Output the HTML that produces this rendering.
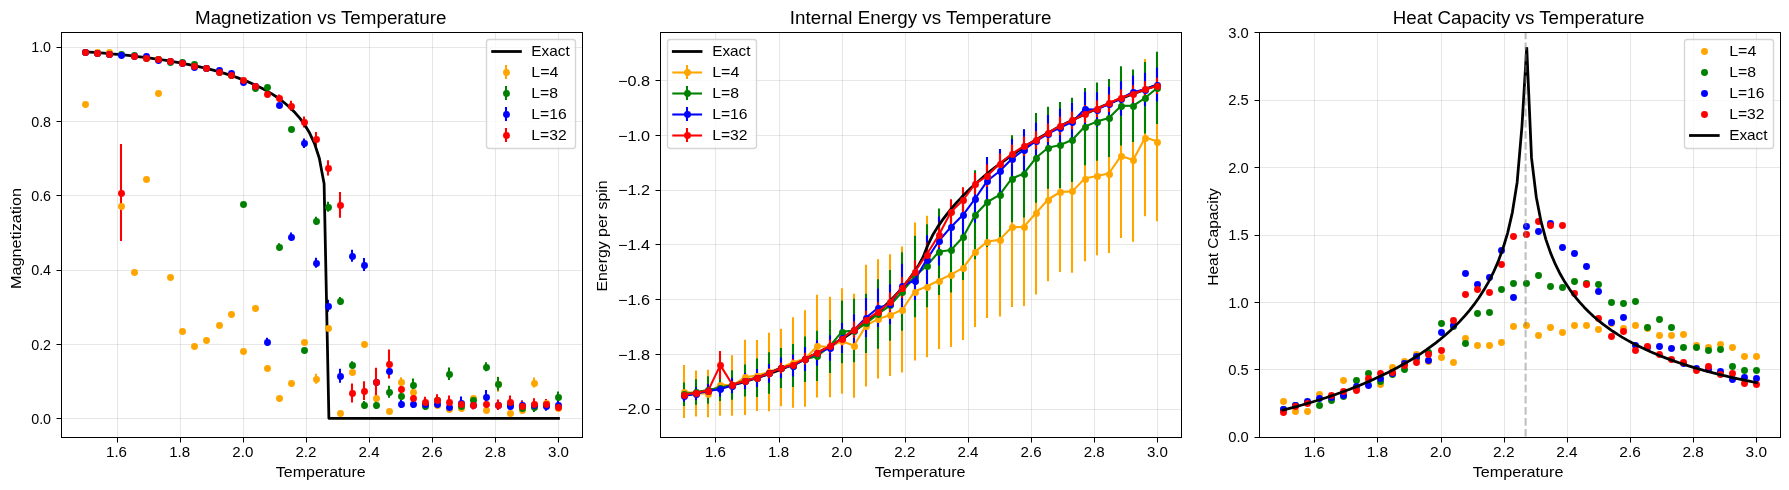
<!DOCTYPE html>
<html lang="en"><head><meta charset="utf-8"><title>Ising model: finite-size Monte Carlo vs exact</title>
<style>html,body{margin:0;padding:0;background:#fff}body{width:1789px;height:490px;overflow:hidden}svg{display:block;will-change:transform}text{font-family:"Liberation Sans",sans-serif;fill:#000}.g line{stroke:#b0b0b0;stroke-opacity:.3;stroke-width:1.11}.k line{stroke:#000;stroke-width:1}.e{stroke-width:2.08;fill:none}.dl{stroke-width:2.08;fill:none;stroke-linejoin:round;stroke-linecap:butt}.ex{stroke:#000;stroke-width:2.78;fill:none;stroke-linejoin:round;stroke-linecap:square}.exb{stroke-linejoin:bevel}.lg{fill:#fff;fill-opacity:.8;stroke:#ccc;stroke-opacity:.8;stroke-width:1.39}</style></head><body>
<svg width="1789" height="490" viewBox="0 0 1789 490">
<rect width="1789" height="490" fill="#fff"/>
<defs>
<clipPath id="c0"><rect x="61.28" y="32.33" width="520.89" height="404.39"/></clipPath>
<clipPath id="c1"><rect x="660.19" y="32.33" width="520.89" height="404.39"/></clipPath>
<clipPath id="c2"><rect x="1259.11" y="32.33" width="520.89" height="404.39"/></clipPath>
</defs>
<g id="panel1">
<g class="g">
<line x1="117.5" y1="32.33" x2="117.5" y2="436.72"/>
<line x1="180.5" y1="32.33" x2="180.5" y2="436.72"/>
<line x1="243.5" y1="32.33" x2="243.5" y2="436.72"/>
<line x1="306.5" y1="32.33" x2="306.5" y2="436.72"/>
<line x1="369.5" y1="32.33" x2="369.5" y2="436.72"/>
<line x1="432.5" y1="32.33" x2="432.5" y2="436.72"/>
<line x1="495.5" y1="32.33" x2="495.5" y2="436.72"/>
<line x1="558.5" y1="32.33" x2="558.5" y2="436.72"/>
<line x1="61.28" y1="418.5" x2="582.17" y2="418.5"/>
<line x1="61.28" y1="344.5" x2="582.17" y2="344.5"/>
<line x1="61.28" y1="270.5" x2="582.17" y2="270.5"/>
<line x1="61.28" y1="195.5" x2="582.17" y2="195.5"/>
<line x1="61.28" y1="121.5" x2="582.17" y2="121.5"/>
<line x1="61.28" y1="47.5" x2="582.17" y2="47.5"/>
</g>
<g clip-path="url(#c0)">
<path class="e" stroke="#ffa500" d="M316 373.7V383.7M401 377.2V386.2M498 376.8V391.8M534 377.5V387.5"/>
<path class="e" stroke="#008000" d="M279 243.3V250.3M316 216.7V224.7M328 201.8V211.8M340 296.9V304.9M352 361.3V368.3M364 400.9V408.7M376 401.1V408.9M389 385.8V397.8M401 391.8V399.6M413 378.6V390.6M425 401.9V409.7M437 395.6V403.4M449 367.4V380M461 402.1V409.9M473 396.4V404.2M486 362.2V371.2M498 377V390.6M510 399.6V407.4M522 404.3V412.1M534 402.1V412.1M546 400.6V408.4M558 391.6V401.6"/>
<path class="e" stroke="#0000ff" d="M267 337.7V345.7M291 232.6V240.6M304 138.4V148M316 257.8V267.8M328 299.8V311.8M340 368.8V382.8M352 249.8V261.8M364 258.1V271.1M376 377.8V385.6M389 363.9V377.9M401 400.1V407.9M413 400.1V407.9M425 400.1V407.9M437 400.1V407.9M449 403.1V410.9M461 396.6V408.6M473 400.6V408.4M486 390V403.2M498 400.6V408.4M510 401.8V409.6M522 400.6V408.4M534 400.6V408.4M546 401.7V410.7M558 400.6V408.4"/>
<path class="e" stroke="#ff0000" d="M121 144V241M255 83.5V88.5M267 90.3V97.3M279 94.4V101.4M291 100.8V110.8M304 116.5V127.5M316 132V146M328 160.3V175.5M340 191.9V217.7M352 383.4V402.4M364 381.3V399.9M376 367.7V395.7M389 349.5V378.5M401 385.8V391.8M413 394V401.8M425 396.7V406.7M437 394.3V406.3M449 395.6V407.6M461 400.2V408.2M473 399.5V409.5M486 400.1V407.9M498 399.5V409.9M510 395.6V407.6M522 400.7V410.7M534 398.2V409.2M546 399V408.4M558 402.7V410.5"/>
<polyline class="ex" points="84.95,51.76 89.74,52.09 94.52,52.44 99.3,52.81 104.09,53.2 108.87,53.61 113.65,54.04 118.44,54.49 123.22,54.97 128,55.47 132.79,55.99 137.57,56.55 142.35,57.12 147.14,57.73 151.92,58.37 156.7,59.04 161.49,59.75 166.27,60.49 171.05,61.27 175.84,62.08 180.62,62.95 185.4,63.85 190.18,64.81 194.97,65.81 199.75,66.87 204.53,67.99 209.32,69.17 214.1,70.42 218.88,71.75 223.67,73.15 228.45,74.63 233.23,76.21 238.02,77.9 242.8,79.69 247.58,81.61 252.37,83.67 257.15,85.89 261.93,88.28 266.72,90.87 271.5,93.69 276.28,96.78 281.07,100.19 285.85,103.97 290.63,108.22 295.41,113.06 300.2,118.64 304.98,125.25 309.76,133.32 314.55,143.68 319.33,158.27 324.11,183.7 328.9,418.34 333.68,418.34 338.46,418.34 343.25,418.34 348.03,418.34 352.81,418.34 357.6,418.34 362.38,418.34 367.16,418.34 371.95,418.34 376.73,418.34 381.51,418.34 386.3,418.34 391.08,418.34 395.86,418.34 400.64,418.34 405.43,418.34 410.21,418.34 414.99,418.34 419.78,418.34 424.56,418.34 429.34,418.34 434.13,418.34 438.91,418.34 443.69,418.34 448.48,418.34 453.26,418.34 458.04,418.34 462.83,418.34 467.61,418.34 472.39,418.34 477.18,418.34 481.96,418.34 486.74,418.34 491.53,418.34 496.31,418.34 501.09,418.34 505.87,418.34 510.66,418.34 515.44,418.34 520.22,418.34 525.01,418.34 529.79,418.34 534.57,418.34 539.36,418.34 544.14,418.34 548.92,418.34 553.71,418.34 558.49,418.34"/>
<g class="m" fill="#ffa500"><circle cx="85.5" cy="104.5" r="3.47"/><circle cx="97.5" cy="52.5" r="3.47"/><circle cx="109.5" cy="52.5" r="3.47"/><circle cx="121.5" cy="206.5" r="3.47"/><circle cx="134.5" cy="272.5" r="3.47"/><circle cx="146.5" cy="179.5" r="3.47"/><circle cx="158.5" cy="93.5" r="3.47"/><circle cx="170.5" cy="277.5" r="3.47"/><circle cx="182.5" cy="331.5" r="3.47"/><circle cx="194.5" cy="346.5" r="3.47"/><circle cx="206.5" cy="340.5" r="3.47"/><circle cx="219.5" cy="325.5" r="3.47"/><circle cx="231.5" cy="314.5" r="3.47"/><circle cx="243.5" cy="351.5" r="3.47"/><circle cx="255.5" cy="308.5" r="3.47"/><circle cx="267.5" cy="368.5" r="3.47"/><circle cx="279.5" cy="398.5" r="3.47"/><circle cx="291.5" cy="383.5" r="3.47"/><circle cx="304.5" cy="342.5" r="3.47"/><circle cx="316.5" cy="379.5" r="3.47"/><circle cx="328.5" cy="328.5" r="3.47"/><circle cx="340.5" cy="413.5" r="3.47"/><circle cx="352.5" cy="372.5" r="3.47"/><circle cx="364.5" cy="344.5" r="3.47"/><circle cx="376.5" cy="398.5" r="3.47"/><circle cx="389.5" cy="411.5" r="3.47"/><circle cx="401.5" cy="382.5" r="3.47"/><circle cx="413.5" cy="392.5" r="3.47"/><circle cx="425.5" cy="405.5" r="3.47"/><circle cx="437.5" cy="405.5" r="3.47"/><circle cx="449.5" cy="409.5" r="3.47"/><circle cx="461.5" cy="408.5" r="3.47"/><circle cx="473.5" cy="398.5" r="3.47"/><circle cx="486.5" cy="410.5" r="3.47"/><circle cx="498.5" cy="384.5" r="3.47"/><circle cx="510.5" cy="413.5" r="3.47"/><circle cx="522.5" cy="410.5" r="3.47"/><circle cx="534.5" cy="383.5" r="3.47"/><circle cx="546.5" cy="403.5" r="3.47"/><circle cx="558.5" cy="408.5" r="3.47"/></g>
<g class="m" fill="#008000"><circle cx="85.5" cy="52.5" r="3.47"/><circle cx="97.5" cy="53.5" r="3.47"/><circle cx="109.5" cy="54.5" r="3.47"/><circle cx="121.5" cy="54.5" r="3.47"/><circle cx="134.5" cy="55.5" r="3.47"/><circle cx="146.5" cy="58.5" r="3.47"/><circle cx="158.5" cy="59.5" r="3.47"/><circle cx="170.5" cy="62.5" r="3.47"/><circle cx="182.5" cy="62.5" r="3.47"/><circle cx="194.5" cy="64.5" r="3.47"/><circle cx="206.5" cy="68.5" r="3.47"/><circle cx="219.5" cy="72.5" r="3.47"/><circle cx="231.5" cy="75.5" r="3.47"/><circle cx="243.5" cy="204.5" r="3.47"/><circle cx="255.5" cy="88.5" r="3.47"/><circle cx="267.5" cy="87.5" r="3.47"/><circle cx="279.5" cy="247.5" r="3.47"/><circle cx="291.5" cy="129.5" r="3.47"/><circle cx="304.5" cy="350.5" r="3.47"/><circle cx="316.5" cy="221.5" r="3.47"/><circle cx="328.5" cy="207.5" r="3.47"/><circle cx="340.5" cy="301.5" r="3.47"/><circle cx="352.5" cy="365.5" r="3.47"/><circle cx="364.5" cy="405.5" r="3.47"/><circle cx="376.5" cy="405.5" r="3.47"/><circle cx="389.5" cy="392.5" r="3.47"/><circle cx="401.5" cy="396.5" r="3.47"/><circle cx="413.5" cy="385.5" r="3.47"/><circle cx="425.5" cy="406.5" r="3.47"/><circle cx="437.5" cy="400.5" r="3.47"/><circle cx="449.5" cy="374.5" r="3.47"/><circle cx="461.5" cy="406.5" r="3.47"/><circle cx="473.5" cy="400.5" r="3.47"/><circle cx="486.5" cy="367.5" r="3.47"/><circle cx="498.5" cy="384.5" r="3.47"/><circle cx="510.5" cy="404.5" r="3.47"/><circle cx="522.5" cy="408.5" r="3.47"/><circle cx="534.5" cy="407.5" r="3.47"/><circle cx="546.5" cy="405.5" r="3.47"/><circle cx="558.5" cy="397.5" r="3.47"/></g>
<g class="m" fill="#0000ff"><circle cx="85.5" cy="52.5" r="3.47"/><circle cx="97.5" cy="53.5" r="3.47"/><circle cx="109.5" cy="54.5" r="3.47"/><circle cx="121.5" cy="55.5" r="3.47"/><circle cx="134.5" cy="56.5" r="3.47"/><circle cx="146.5" cy="56.5" r="3.47"/><circle cx="158.5" cy="60.5" r="3.47"/><circle cx="170.5" cy="61.5" r="3.47"/><circle cx="182.5" cy="63.5" r="3.47"/><circle cx="194.5" cy="67.5" r="3.47"/><circle cx="206.5" cy="68.5" r="3.47"/><circle cx="219.5" cy="70.5" r="3.47"/><circle cx="231.5" cy="73.5" r="3.47"/><circle cx="243.5" cy="82.5" r="3.47"/><circle cx="255.5" cy="86.5" r="3.47"/><circle cx="267.5" cy="342.5" r="3.47"/><circle cx="279.5" cy="105.5" r="3.47"/><circle cx="291.5" cy="237.5" r="3.47"/><circle cx="304.5" cy="143.5" r="3.47"/><circle cx="316.5" cy="263.5" r="3.47"/><circle cx="328.5" cy="306.5" r="3.47"/><circle cx="340.5" cy="376.5" r="3.47"/><circle cx="352.5" cy="256.5" r="3.47"/><circle cx="364.5" cy="265.5" r="3.47"/><circle cx="376.5" cy="382.5" r="3.47"/><circle cx="389.5" cy="371.5" r="3.47"/><circle cx="401.5" cy="404.5" r="3.47"/><circle cx="413.5" cy="404.5" r="3.47"/><circle cx="425.5" cy="404.5" r="3.47"/><circle cx="437.5" cy="404.5" r="3.47"/><circle cx="449.5" cy="407.5" r="3.47"/><circle cx="461.5" cy="403.5" r="3.47"/><circle cx="473.5" cy="405.5" r="3.47"/><circle cx="486.5" cy="397.5" r="3.47"/><circle cx="498.5" cy="405.5" r="3.47"/><circle cx="510.5" cy="406.5" r="3.47"/><circle cx="522.5" cy="405.5" r="3.47"/><circle cx="534.5" cy="405.5" r="3.47"/><circle cx="546.5" cy="406.5" r="3.47"/><circle cx="558.5" cy="405.5" r="3.47"/></g>
<g class="m" fill="#ff0000"><circle cx="85.5" cy="52.5" r="3.47"/><circle cx="97.5" cy="53.5" r="3.47"/><circle cx="109.5" cy="54.5" r="3.47"/><circle cx="121.5" cy="193.5" r="3.47"/><circle cx="134.5" cy="56.5" r="3.47"/><circle cx="146.5" cy="58.5" r="3.47"/><circle cx="158.5" cy="59.5" r="3.47"/><circle cx="170.5" cy="61.5" r="3.47"/><circle cx="182.5" cy="63.5" r="3.47"/><circle cx="194.5" cy="66.5" r="3.47"/><circle cx="206.5" cy="68.5" r="3.47"/><circle cx="219.5" cy="72.5" r="3.47"/><circle cx="231.5" cy="75.5" r="3.47"/><circle cx="243.5" cy="80.5" r="3.47"/><circle cx="255.5" cy="86.5" r="3.47"/><circle cx="267.5" cy="94.5" r="3.47"/><circle cx="279.5" cy="98.5" r="3.47"/><circle cx="291.5" cy="106.5" r="3.47"/><circle cx="304.5" cy="122.5" r="3.47"/><circle cx="316.5" cy="139.5" r="3.47"/><circle cx="328.5" cy="168.5" r="3.47"/><circle cx="340.5" cy="205.5" r="3.47"/><circle cx="352.5" cy="393.5" r="3.47"/><circle cx="364.5" cy="391.5" r="3.47"/><circle cx="376.5" cy="382.5" r="3.47"/><circle cx="389.5" cy="364.5" r="3.47"/><circle cx="401.5" cy="389.5" r="3.47"/><circle cx="413.5" cy="398.5" r="3.47"/><circle cx="425.5" cy="402.5" r="3.47"/><circle cx="437.5" cy="400.5" r="3.47"/><circle cx="449.5" cy="402.5" r="3.47"/><circle cx="461.5" cy="404.5" r="3.47"/><circle cx="473.5" cy="405.5" r="3.47"/><circle cx="486.5" cy="404.5" r="3.47"/><circle cx="498.5" cy="405.5" r="3.47"/><circle cx="510.5" cy="402.5" r="3.47"/><circle cx="522.5" cy="406.5" r="3.47"/><circle cx="534.5" cy="404.5" r="3.47"/><circle cx="546.5" cy="404.5" r="3.47"/><circle cx="558.5" cy="407.5" r="3.47"/></g>
</g>
<g class="k">
<rect x="61.5" y="32.5" width="521" height="405" fill="none" stroke="#000" stroke-width="1"/>
<line x1="117.5" y1="437.5" x2="117.5" y2="442.5"/>
<line x1="180.5" y1="437.5" x2="180.5" y2="442.5"/>
<line x1="243.5" y1="437.5" x2="243.5" y2="442.5"/>
<line x1="306.5" y1="437.5" x2="306.5" y2="442.5"/>
<line x1="369.5" y1="437.5" x2="369.5" y2="442.5"/>
<line x1="432.5" y1="437.5" x2="432.5" y2="442.5"/>
<line x1="495.5" y1="437.5" x2="495.5" y2="442.5"/>
<line x1="558.5" y1="437.5" x2="558.5" y2="442.5"/>
<line x1="56.5" y1="418.5" x2="61.5" y2="418.5"/>
<line x1="56.5" y1="344.5" x2="61.5" y2="344.5"/>
<line x1="56.5" y1="270.5" x2="61.5" y2="270.5"/>
<line x1="56.5" y1="195.5" x2="61.5" y2="195.5"/>
<line x1="56.5" y1="121.5" x2="61.5" y2="121.5"/>
<line x1="56.5" y1="47.5" x2="61.5" y2="47.5"/>
</g>
</g>
<g id="panel2">
<g class="g">
<line x1="715.5" y1="32.33" x2="715.5" y2="436.72"/>
<line x1="779.5" y1="32.33" x2="779.5" y2="436.72"/>
<line x1="842.5" y1="32.33" x2="842.5" y2="436.72"/>
<line x1="905.5" y1="32.33" x2="905.5" y2="436.72"/>
<line x1="968.5" y1="32.33" x2="968.5" y2="436.72"/>
<line x1="1031.5" y1="32.33" x2="1031.5" y2="436.72"/>
<line x1="1094.5" y1="32.33" x2="1094.5" y2="436.72"/>
<line x1="1157.5" y1="32.33" x2="1157.5" y2="436.72"/>
<line x1="660.19" y1="409.5" x2="1181.08" y2="409.5"/>
<line x1="660.19" y1="354.5" x2="1181.08" y2="354.5"/>
<line x1="660.19" y1="299.5" x2="1181.08" y2="299.5"/>
<line x1="660.19" y1="244.5" x2="1181.08" y2="244.5"/>
<line x1="660.19" y1="190.5" x2="1181.08" y2="190.5"/>
<line x1="660.19" y1="135.5" x2="1181.08" y2="135.5"/>
<line x1="660.19" y1="80.5" x2="1181.08" y2="80.5"/>
</g>
<g clip-path="url(#c1)">
<path class="e" stroke="#ffa500" d="M684 364.97V418.03M696 370.42V416.58M708 369.84V417.16M720 353.25V415.75M732 355.3V415.7M745 339.71V415.09M757 340.08V410.92M769 332.87V411.13M781 328.79V406.21M793 317.18V407.82M805 310.17V406.83M817 294.63V397.57M830 296.69V397.31M842 288.36V393.64M854 293.8V397.8M866 264.7V386.5M878 259.18V378.62M890 254.29V375.91M902 246.57V372.43M915 222.39V360.61M927 215.73V357.27M939 211.94V349.06M951 202.27V346.93M963 195.89V339.91M975 176.26V326.94M987 164.96V318.04M1000 163.35V316.45M1012 147.51V307.09M1024 147.85V305.95M1036 131.43V294.57M1048 117.83V281.17M1060 111.91V272.09M1072 110.17V272.63M1085 95.84V261.36M1097 96.57V255.23M1109 94.01V252.99M1121 73.86V237.94M1133 78.46V241.74M1145 58.99V216.21M1157 61.97V221.23"/>
<path class="e" stroke="#008000" d="M684 382.48V405.92M696 379.27V404.73M708 376.28V403.72M720 374.05V400.95M732 370.16V399.84M745 364.62V396.38M757 358.52V397.08M769 352.15V393.65M781 348.03V387.97M793 344.04V386.96M805 336.51V382.09M817 330.7V381.1M830 319.89V373.11M842 300.47V363.33M854 298.85V362.15M866 293.76V353.04M878 279.17V348.63M890 269.98V340.82M902 252.21V330.79M915 235.74V317.26M927 224.23V307.17M939 208.52V295.08M951 207.49V292.51M963 193.94V280.06M975 170.25V259.35M987 156.96V247.04M1000 149.4V240.4M1012 135.25V222.15M1024 129.53V217.47M1036 112.9V202.7M1048 106.7V188.7M1060 101.89V188.11M1072 97.71V181.89M1085 88.03V165.37M1097 82.39V160.81M1109 79.05V156.95M1121 66.18V145.62M1133 69.57V142.03M1145 62.12V133.48M1157 51.66V123.94"/>
<path class="e" stroke="#0000ff" d="M684 390.17V401.83M696 387.3V400.1M708 384.03V397.97M720 381.74V396.46M732 377.81V393.19M745 372.96V389.04M757 368.89V387.11M769 363.92V382.68M781 357.52V377.88M793 354.62V376.38M805 347.1V370.9M817 340.26V365.74M830 335.33V360.67M842 322.9V353.1M854 314.13V345.87M866 298.11V337.29M878 288.45V326.95M890 284.24V324.36M902 263.7V307.9M915 261.05V299.95M927 235.32V283.88M939 216.61V265.39M951 201.64V252.16M963 190.61V238.99M975 174.29V222.71M987 157V204.4M1000 149.07V193.53M1012 138.95V179.05M1024 129.22V170.78M1036 122.53V159.47M1048 114.95V152.05M1060 108.6V146.4M1072 102.93V140.87M1085 91.74V126.86M1097 92.34V126.66M1109 86.81V121.19M1121 81.21V115.79M1133 75.59V108.41M1145 72.66V106.34M1157 67.59V101.61"/>
<path class="e" stroke="#ff0000" d="M684 391.93V397.47M696 389.55V395.85M708 387.23V393.97M720 351.12V379.08M732 380.89V388.75M745 376.69V385.09M757 373.32V382.06M769 368.2V378.2M781 362.83V373.47M793 359.09V370.07M805 352.83V364.59M817 346.43V358.71M830 339.7V352.86M842 331.93V345.67M854 321.48V337.72M866 310.85V329.15M878 302.22V321.18M890 292.44V311.56M902 276.89V298.11M915 260.35V283.65M927 242.59V266.41M939 222.51V247.49M951 199.22V224.38M963 187.21V212.79M975 172.98V194.42M987 164.6V187M1000 153.45V173.55M1012 144.59V163.41M1024 136.43V155.97M1036 131.32V149.28M1048 123.41V141.99M1060 116.87V134.93M1072 111.44V129.16M1085 105.11V122.69M1097 100.44V117.36M1109 94.48V112.12M1121 89.42V106.18M1133 85.19V102.41M1145 81.27V97.33M1157 77.86V93.94"/>
<polyline class="ex" points="683.87,395.37 688.65,394.53 693.44,393.66 698.22,392.74 703,391.79 707.79,390.79 712.57,389.75 717.35,388.67 722.14,387.54 726.92,386.36 731.7,385.14 736.49,383.86 741.27,382.54 746.05,381.16 750.84,379.72 755.62,378.23 760.4,376.68 765.19,375.08 769.97,373.41 774.75,371.67 779.53,369.87 784.32,368 789.1,366.06 793.88,364.04 798.67,361.95 803.45,359.78 808.23,357.52 813.02,355.18 817.8,352.75 822.58,350.23 827.37,347.61 832.15,344.88 836.93,342.05 841.72,339.1 846.5,336.03 851.28,332.84 856.07,329.51 860.85,326.03 865.63,322.4 870.42,318.61 875.2,314.63 879.98,310.46 884.76,306.07 889.55,301.45 894.33,296.55 899.11,291.34 903.9,285.77 908.68,279.75 913.46,273.18 918.25,265.85 923.03,257.28 927.81,245.11 932.6,235.28 937.38,227.37 942.16,220.4 946.95,214.07 951.73,208.21 956.51,202.74 961.3,197.59 966.08,192.72 970.86,188.08 975.65,183.66 980.43,179.42 985.21,175.35 990,171.44 994.78,167.68 999.56,164.04 1004.34,160.52 1009.13,157.12 1013.91,153.83 1018.69,150.63 1023.48,147.53 1028.26,144.51 1033.04,141.58 1037.83,138.73 1042.61,135.95 1047.39,133.24 1052.18,130.6 1056.96,128.03 1061.74,125.51 1066.53,123.06 1071.31,120.66 1076.09,118.31 1080.88,116.02 1085.66,113.77 1090.44,111.58 1095.23,109.43 1100.01,107.32 1104.79,105.26 1109.57,103.23 1114.36,101.25 1119.14,99.31 1123.92,97.4 1128.71,95.53 1133.49,93.69 1138.27,91.89 1143.06,90.12 1147.84,88.38 1152.62,86.67 1157.41,84.99"/>
<polyline class="dl" stroke="#ffa500" points="683.87,391.5 696.01,393.5 708.16,393.5 720.3,384.5 732.44,385.5 744.58,377.4 756.72,375.5 768.86,372 781.01,367.5 793.15,362.5 805.29,358.5 817.43,346.1 829.57,347 841.72,341 853.86,345.8 866,325.6 878.14,318.9 890.28,315.1 902.43,309.5 914.57,291.5 926.71,286.5 938.85,280.5 950.99,274.6 963.14,267.9 975.28,251.6 987.42,241.5 999.56,239.9 1011.7,227.3 1023.85,226.9 1035.99,213 1048.13,199.5 1060.27,192 1072.41,191.4 1084.55,178.6 1096.7,175.9 1108.84,173.5 1120.98,155.9 1133.12,160.1 1145.26,137.6 1157.41,141.6"/>
<g class="m" fill="#ffa500"><circle cx="684.5" cy="392.5" r="3.47"/><circle cx="696.5" cy="394.5" r="3.47"/><circle cx="708.5" cy="394.5" r="3.47"/><circle cx="720.5" cy="385.5" r="3.47"/><circle cx="732.5" cy="386.5" r="3.47"/><circle cx="745.5" cy="377.5" r="3.47"/><circle cx="757.5" cy="376.5" r="3.47"/><circle cx="769.5" cy="372.5" r="3.47"/><circle cx="781.5" cy="368.5" r="3.47"/><circle cx="793.5" cy="363.5" r="3.47"/><circle cx="805.5" cy="359.5" r="3.47"/><circle cx="817.5" cy="346.5" r="3.47"/><circle cx="830.5" cy="347.5" r="3.47"/><circle cx="842.5" cy="341.5" r="3.47"/><circle cx="854.5" cy="346.5" r="3.47"/><circle cx="866.5" cy="326.5" r="3.47"/><circle cx="878.5" cy="319.5" r="3.47"/><circle cx="890.5" cy="315.5" r="3.47"/><circle cx="902.5" cy="310.5" r="3.47"/><circle cx="915.5" cy="292.5" r="3.47"/><circle cx="927.5" cy="287.5" r="3.47"/><circle cx="939.5" cy="281.5" r="3.47"/><circle cx="951.5" cy="275.5" r="3.47"/><circle cx="963.5" cy="268.5" r="3.47"/><circle cx="975.5" cy="252.5" r="3.47"/><circle cx="987.5" cy="242.5" r="3.47"/><circle cx="1000.5" cy="240.5" r="3.47"/><circle cx="1012.5" cy="227.5" r="3.47"/><circle cx="1024.5" cy="227.5" r="3.47"/><circle cx="1036.5" cy="213.5" r="3.47"/><circle cx="1048.5" cy="200.5" r="3.47"/><circle cx="1060.5" cy="192.5" r="3.47"/><circle cx="1072.5" cy="191.5" r="3.47"/><circle cx="1085.5" cy="179.5" r="3.47"/><circle cx="1097.5" cy="176.5" r="3.47"/><circle cx="1109.5" cy="174.5" r="3.47"/><circle cx="1121.5" cy="156.5" r="3.47"/><circle cx="1133.5" cy="160.5" r="3.47"/><circle cx="1145.5" cy="138.5" r="3.47"/><circle cx="1157.5" cy="142.5" r="3.47"/></g>
<polyline class="dl" stroke="#008000" points="683.87,394.2 696.01,392 708.16,390 720.3,387.5 732.44,385 744.58,380.5 756.72,377.8 768.86,372.9 781.01,368 793.15,365.5 805.29,359.3 817.43,355.9 829.57,346.5 841.72,331.9 853.86,330.5 866,323.4 878.14,313.9 890.28,305.4 902.43,291.5 914.57,276.5 926.71,265.7 938.85,251.8 950.99,250 963.14,237 975.28,214.8 987.42,202 999.56,194.9 1011.7,178.7 1023.85,173.5 1035.99,157.8 1048.13,147.7 1060.27,145 1072.41,139.8 1084.55,126.7 1096.7,121.6 1108.84,118 1120.98,105.9 1133.12,105.8 1145.26,97.8 1157.41,87.8"/>
<g class="m" fill="#008000"><circle cx="684.5" cy="394.5" r="3.47"/><circle cx="696.5" cy="392.5" r="3.47"/><circle cx="708.5" cy="390.5" r="3.47"/><circle cx="720.5" cy="388.5" r="3.47"/><circle cx="732.5" cy="385.5" r="3.47"/><circle cx="745.5" cy="381.5" r="3.47"/><circle cx="757.5" cy="378.5" r="3.47"/><circle cx="769.5" cy="373.5" r="3.47"/><circle cx="781.5" cy="368.5" r="3.47"/><circle cx="793.5" cy="366.5" r="3.47"/><circle cx="805.5" cy="359.5" r="3.47"/><circle cx="817.5" cy="356.5" r="3.47"/><circle cx="830.5" cy="347.5" r="3.47"/><circle cx="842.5" cy="332.5" r="3.47"/><circle cx="854.5" cy="331.5" r="3.47"/><circle cx="866.5" cy="323.5" r="3.47"/><circle cx="878.5" cy="314.5" r="3.47"/><circle cx="890.5" cy="305.5" r="3.47"/><circle cx="902.5" cy="292.5" r="3.47"/><circle cx="915.5" cy="277.5" r="3.47"/><circle cx="927.5" cy="266.5" r="3.47"/><circle cx="939.5" cy="252.5" r="3.47"/><circle cx="951.5" cy="250.5" r="3.47"/><circle cx="963.5" cy="237.5" r="3.47"/><circle cx="975.5" cy="215.5" r="3.47"/><circle cx="987.5" cy="202.5" r="3.47"/><circle cx="1000.5" cy="195.5" r="3.47"/><circle cx="1012.5" cy="179.5" r="3.47"/><circle cx="1024.5" cy="174.5" r="3.47"/><circle cx="1036.5" cy="158.5" r="3.47"/><circle cx="1048.5" cy="148.5" r="3.47"/><circle cx="1060.5" cy="145.5" r="3.47"/><circle cx="1072.5" cy="140.5" r="3.47"/><circle cx="1085.5" cy="127.5" r="3.47"/><circle cx="1097.5" cy="122.5" r="3.47"/><circle cx="1109.5" cy="118.5" r="3.47"/><circle cx="1121.5" cy="106.5" r="3.47"/><circle cx="1133.5" cy="106.5" r="3.47"/><circle cx="1145.5" cy="98.5" r="3.47"/><circle cx="1157.5" cy="88.5" r="3.47"/></g>
<polyline class="dl" stroke="#0000ff" points="683.87,396 696.01,393.7 708.16,391 720.3,389.1 732.44,385.5 744.58,381 756.72,378 768.86,373.3 781.01,367.7 793.15,365.5 805.29,359 817.43,353 829.57,348 841.72,338 853.86,330 866,317.7 878.14,307.7 890.28,304.3 902.43,285.8 914.57,280.5 926.71,259.6 938.85,241 950.99,226.9 963.14,214.8 975.28,198.5 987.42,180.7 999.56,171.3 1011.7,159 1023.85,150 1035.99,141 1048.13,133.5 1060.27,127.5 1072.41,121.9 1084.55,109.3 1096.7,109.5 1108.84,104 1120.98,98.5 1133.12,92 1145.26,89.5 1157.41,84.6"/>
<g class="m" fill="#0000ff"><circle cx="684.5" cy="396.5" r="3.47"/><circle cx="696.5" cy="394.5" r="3.47"/><circle cx="708.5" cy="391.5" r="3.47"/><circle cx="720.5" cy="389.5" r="3.47"/><circle cx="732.5" cy="386.5" r="3.47"/><circle cx="745.5" cy="381.5" r="3.47"/><circle cx="757.5" cy="378.5" r="3.47"/><circle cx="769.5" cy="373.5" r="3.47"/><circle cx="781.5" cy="368.5" r="3.47"/><circle cx="793.5" cy="366.5" r="3.47"/><circle cx="805.5" cy="359.5" r="3.47"/><circle cx="817.5" cy="353.5" r="3.47"/><circle cx="830.5" cy="348.5" r="3.47"/><circle cx="842.5" cy="338.5" r="3.47"/><circle cx="854.5" cy="330.5" r="3.47"/><circle cx="866.5" cy="318.5" r="3.47"/><circle cx="878.5" cy="308.5" r="3.47"/><circle cx="890.5" cy="304.5" r="3.47"/><circle cx="902.5" cy="286.5" r="3.47"/><circle cx="915.5" cy="281.5" r="3.47"/><circle cx="927.5" cy="260.5" r="3.47"/><circle cx="939.5" cy="241.5" r="3.47"/><circle cx="951.5" cy="227.5" r="3.47"/><circle cx="963.5" cy="215.5" r="3.47"/><circle cx="975.5" cy="199.5" r="3.47"/><circle cx="987.5" cy="181.5" r="3.47"/><circle cx="1000.5" cy="171.5" r="3.47"/><circle cx="1012.5" cy="159.5" r="3.47"/><circle cx="1024.5" cy="150.5" r="3.47"/><circle cx="1036.5" cy="141.5" r="3.47"/><circle cx="1048.5" cy="134.5" r="3.47"/><circle cx="1060.5" cy="128.5" r="3.47"/><circle cx="1072.5" cy="122.5" r="3.47"/><circle cx="1085.5" cy="109.5" r="3.47"/><circle cx="1097.5" cy="110.5" r="3.47"/><circle cx="1109.5" cy="104.5" r="3.47"/><circle cx="1121.5" cy="99.5" r="3.47"/><circle cx="1133.5" cy="92.5" r="3.47"/><circle cx="1145.5" cy="90.5" r="3.47"/><circle cx="1157.5" cy="85.5" r="3.47"/></g>
<polyline class="dl" stroke="#ff0000" points="683.87,394.7 696.01,392.7 708.16,390.6 720.3,365.1 732.44,384.82 744.58,380.89 756.72,377.69 768.86,373.2 781.01,368.15 793.15,364.58 805.29,358.71 817.43,352.57 829.57,346.28 841.72,338.8 853.86,329.6 866,320 878.14,311.7 890.28,302 902.43,287.5 914.57,272 926.71,254.5 938.85,235 950.99,211.8 963.14,200 975.28,183.7 987.42,175.8 999.56,163.5 1011.7,154 1023.85,146.2 1035.99,140.3 1048.13,132.7 1060.27,125.9 1072.41,120.3 1084.55,113.9 1096.7,108.9 1108.84,103.3 1120.98,97.8 1133.12,93.8 1145.26,89.3 1157.41,85.9"/>
<g class="m" fill="#ff0000"><circle cx="684.5" cy="395.5" r="3.47"/><circle cx="696.5" cy="393.5" r="3.47"/><circle cx="708.5" cy="391.5" r="3.47"/><circle cx="720.5" cy="365.5" r="3.47"/><circle cx="732.5" cy="385.5" r="3.47"/><circle cx="745.5" cy="381.5" r="3.47"/><circle cx="757.5" cy="378.5" r="3.47"/><circle cx="769.5" cy="373.5" r="3.47"/><circle cx="781.5" cy="368.5" r="3.47"/><circle cx="793.5" cy="365.5" r="3.47"/><circle cx="805.5" cy="359.5" r="3.47"/><circle cx="817.5" cy="353.5" r="3.47"/><circle cx="830.5" cy="346.5" r="3.47"/><circle cx="842.5" cy="339.5" r="3.47"/><circle cx="854.5" cy="330.5" r="3.47"/><circle cx="866.5" cy="320.5" r="3.47"/><circle cx="878.5" cy="312.5" r="3.47"/><circle cx="890.5" cy="302.5" r="3.47"/><circle cx="902.5" cy="288.5" r="3.47"/><circle cx="915.5" cy="272.5" r="3.47"/><circle cx="927.5" cy="255.5" r="3.47"/><circle cx="939.5" cy="235.5" r="3.47"/><circle cx="951.5" cy="212.5" r="3.47"/><circle cx="963.5" cy="200.5" r="3.47"/><circle cx="975.5" cy="184.5" r="3.47"/><circle cx="987.5" cy="176.5" r="3.47"/><circle cx="1000.5" cy="164.5" r="3.47"/><circle cx="1012.5" cy="154.5" r="3.47"/><circle cx="1024.5" cy="146.5" r="3.47"/><circle cx="1036.5" cy="140.5" r="3.47"/><circle cx="1048.5" cy="133.5" r="3.47"/><circle cx="1060.5" cy="126.5" r="3.47"/><circle cx="1072.5" cy="120.5" r="3.47"/><circle cx="1085.5" cy="114.5" r="3.47"/><circle cx="1097.5" cy="109.5" r="3.47"/><circle cx="1109.5" cy="103.5" r="3.47"/><circle cx="1121.5" cy="98.5" r="3.47"/><circle cx="1133.5" cy="94.5" r="3.47"/><circle cx="1145.5" cy="89.5" r="3.47"/><circle cx="1157.5" cy="86.5" r="3.47"/></g>
</g>
<g class="k">
<rect x="660.5" y="32.5" width="521" height="405" fill="none" stroke="#000" stroke-width="1"/>
<line x1="715.5" y1="437.5" x2="715.5" y2="442.5"/>
<line x1="779.5" y1="437.5" x2="779.5" y2="442.5"/>
<line x1="842.5" y1="437.5" x2="842.5" y2="442.5"/>
<line x1="905.5" y1="437.5" x2="905.5" y2="442.5"/>
<line x1="968.5" y1="437.5" x2="968.5" y2="442.5"/>
<line x1="1031.5" y1="437.5" x2="1031.5" y2="442.5"/>
<line x1="1094.5" y1="437.5" x2="1094.5" y2="442.5"/>
<line x1="1157.5" y1="437.5" x2="1157.5" y2="442.5"/>
<line x1="655.5" y1="409.5" x2="660.5" y2="409.5"/>
<line x1="655.5" y1="354.5" x2="660.5" y2="354.5"/>
<line x1="655.5" y1="299.5" x2="660.5" y2="299.5"/>
<line x1="655.5" y1="244.5" x2="660.5" y2="244.5"/>
<line x1="655.5" y1="190.5" x2="660.5" y2="190.5"/>
<line x1="655.5" y1="135.5" x2="660.5" y2="135.5"/>
<line x1="655.5" y1="80.5" x2="660.5" y2="80.5"/>
</g>
</g>
<g id="panel3">
<g class="g">
<line x1="1314.5" y1="32.33" x2="1314.5" y2="436.72"/>
<line x1="1377.5" y1="32.33" x2="1377.5" y2="436.72"/>
<line x1="1441.5" y1="32.33" x2="1441.5" y2="436.72"/>
<line x1="1504.5" y1="32.33" x2="1504.5" y2="436.72"/>
<line x1="1567.5" y1="32.33" x2="1567.5" y2="436.72"/>
<line x1="1630.5" y1="32.33" x2="1630.5" y2="436.72"/>
<line x1="1693.5" y1="32.33" x2="1693.5" y2="436.72"/>
<line x1="1756.5" y1="32.33" x2="1756.5" y2="436.72"/>
<line x1="1259.11" y1="437.5" x2="1780" y2="437.5"/>
<line x1="1259.11" y1="369.5" x2="1780" y2="369.5"/>
<line x1="1259.11" y1="302.5" x2="1780" y2="302.5"/>
<line x1="1259.11" y1="235.5" x2="1780" y2="235.5"/>
<line x1="1259.11" y1="167.5" x2="1780" y2="167.5"/>
<line x1="1259.11" y1="100.5" x2="1780" y2="100.5"/>
<line x1="1259.11" y1="32.5" x2="1780" y2="32.5"/>
</g>
<g clip-path="url(#c2)">
<g class="m" fill="#ffa500"><circle cx="1283.5" cy="401.5" r="3.47"/><circle cx="1295.5" cy="411.5" r="3.47"/><circle cx="1307.5" cy="411.5" r="3.47"/><circle cx="1319.5" cy="394.5" r="3.47"/><circle cx="1331.5" cy="398.5" r="3.47"/><circle cx="1343.5" cy="380.5" r="3.47"/><circle cx="1356.5" cy="389.5" r="3.47"/><circle cx="1368.5" cy="380.5" r="3.47"/><circle cx="1380.5" cy="384.5" r="3.47"/><circle cx="1392.5" cy="367.5" r="3.47"/><circle cx="1404.5" cy="361.5" r="3.47"/><circle cx="1416.5" cy="354.5" r="3.47"/><circle cx="1428.5" cy="361.5" r="3.47"/><circle cx="1441.5" cy="357.5" r="3.47"/><circle cx="1453.5" cy="362.5" r="3.47"/><circle cx="1465.5" cy="338.5" r="3.47"/><circle cx="1477.5" cy="345.5" r="3.47"/><circle cx="1489.5" cy="345.5" r="3.47"/><circle cx="1501.5" cy="342.5" r="3.47"/><circle cx="1513.5" cy="326.5" r="3.47"/><circle cx="1526.5" cy="325.5" r="3.47"/><circle cx="1538.5" cy="335.5" r="3.47"/><circle cx="1550.5" cy="327.5" r="3.47"/><circle cx="1562.5" cy="332.5" r="3.47"/><circle cx="1574.5" cy="325.5" r="3.47"/><circle cx="1586.5" cy="325.5" r="3.47"/><circle cx="1598.5" cy="329.5" r="3.47"/><circle cx="1611.5" cy="323.5" r="3.47"/><circle cx="1623.5" cy="328.5" r="3.47"/><circle cx="1635.5" cy="325.5" r="3.47"/><circle cx="1647.5" cy="328.5" r="3.47"/><circle cx="1659.5" cy="335.5" r="3.47"/><circle cx="1671.5" cy="335.5" r="3.47"/><circle cx="1683.5" cy="334.5" r="3.47"/><circle cx="1696.5" cy="345.5" r="3.47"/><circle cx="1708.5" cy="347.5" r="3.47"/><circle cx="1720.5" cy="344.5" r="3.47"/><circle cx="1732.5" cy="347.5" r="3.47"/><circle cx="1744.5" cy="356.5" r="3.47"/><circle cx="1756.5" cy="356.5" r="3.47"/></g>
<g class="m" fill="#008000"><circle cx="1283.5" cy="409.5" r="3.47"/><circle cx="1295.5" cy="405.5" r="3.47"/><circle cx="1307.5" cy="402.5" r="3.47"/><circle cx="1319.5" cy="405.5" r="3.47"/><circle cx="1331.5" cy="400.5" r="3.47"/><circle cx="1343.5" cy="396.5" r="3.47"/><circle cx="1356.5" cy="380.5" r="3.47"/><circle cx="1368.5" cy="373.5" r="3.47"/><circle cx="1380.5" cy="381.5" r="3.47"/><circle cx="1392.5" cy="374.5" r="3.47"/><circle cx="1404.5" cy="369.5" r="3.47"/><circle cx="1416.5" cy="358.5" r="3.47"/><circle cx="1428.5" cy="352.5" r="3.47"/><circle cx="1441.5" cy="323.5" r="3.47"/><circle cx="1453.5" cy="326.5" r="3.47"/><circle cx="1465.5" cy="343.5" r="3.47"/><circle cx="1477.5" cy="313.5" r="3.47"/><circle cx="1489.5" cy="312.5" r="3.47"/><circle cx="1501.5" cy="289.5" r="3.47"/><circle cx="1513.5" cy="283.5" r="3.47"/><circle cx="1526.5" cy="283.5" r="3.47"/><circle cx="1538.5" cy="275.5" r="3.47"/><circle cx="1550.5" cy="286.5" r="3.47"/><circle cx="1562.5" cy="287.5" r="3.47"/><circle cx="1574.5" cy="281.5" r="3.47"/><circle cx="1586.5" cy="283.5" r="3.47"/><circle cx="1598.5" cy="284.5" r="3.47"/><circle cx="1611.5" cy="302.5" r="3.47"/><circle cx="1623.5" cy="303.5" r="3.47"/><circle cx="1635.5" cy="301.5" r="3.47"/><circle cx="1647.5" cy="327.5" r="3.47"/><circle cx="1659.5" cy="319.5" r="3.47"/><circle cx="1671.5" cy="327.5" r="3.47"/><circle cx="1683.5" cy="347.5" r="3.47"/><circle cx="1696.5" cy="347.5" r="3.47"/><circle cx="1708.5" cy="350.5" r="3.47"/><circle cx="1720.5" cy="349.5" r="3.47"/><circle cx="1732.5" cy="366.5" r="3.47"/><circle cx="1744.5" cy="370.5" r="3.47"/><circle cx="1756.5" cy="370.5" r="3.47"/></g>
<g class="m" fill="#0000ff"><circle cx="1283.5" cy="409.5" r="3.47"/><circle cx="1295.5" cy="405.5" r="3.47"/><circle cx="1307.5" cy="401.5" r="3.47"/><circle cx="1319.5" cy="398.5" r="3.47"/><circle cx="1331.5" cy="397.5" r="3.47"/><circle cx="1343.5" cy="395.5" r="3.47"/><circle cx="1356.5" cy="386.5" r="3.47"/><circle cx="1368.5" cy="385.5" r="3.47"/><circle cx="1380.5" cy="378.5" r="3.47"/><circle cx="1392.5" cy="373.5" r="3.47"/><circle cx="1404.5" cy="363.5" r="3.47"/><circle cx="1416.5" cy="356.5" r="3.47"/><circle cx="1428.5" cy="360.5" r="3.47"/><circle cx="1441.5" cy="332.5" r="3.47"/><circle cx="1453.5" cy="325.5" r="3.47"/><circle cx="1465.5" cy="273.5" r="3.47"/><circle cx="1477.5" cy="284.5" r="3.47"/><circle cx="1489.5" cy="277.5" r="3.47"/><circle cx="1501.5" cy="250.5" r="3.47"/><circle cx="1513.5" cy="297.5" r="3.47"/><circle cx="1526.5" cy="226.5" r="3.47"/><circle cx="1538.5" cy="231.5" r="3.47"/><circle cx="1550.5" cy="223.5" r="3.47"/><circle cx="1562.5" cy="247.5" r="3.47"/><circle cx="1574.5" cy="253.5" r="3.47"/><circle cx="1586.5" cy="266.5" r="3.47"/><circle cx="1598.5" cy="291.5" r="3.47"/><circle cx="1611.5" cy="322.5" r="3.47"/><circle cx="1623.5" cy="317.5" r="3.47"/><circle cx="1635.5" cy="345.5" r="3.47"/><circle cx="1647.5" cy="347.5" r="3.47"/><circle cx="1659.5" cy="346.5" r="3.47"/><circle cx="1671.5" cy="348.5" r="3.47"/><circle cx="1683.5" cy="363.5" r="3.47"/><circle cx="1696.5" cy="368.5" r="3.47"/><circle cx="1708.5" cy="369.5" r="3.47"/><circle cx="1720.5" cy="371.5" r="3.47"/><circle cx="1732.5" cy="379.5" r="3.47"/><circle cx="1744.5" cy="377.5" r="3.47"/><circle cx="1756.5" cy="378.5" r="3.47"/></g>
<g class="m" fill="#ff0000"><circle cx="1283.5" cy="412.5" r="3.47"/><circle cx="1295.5" cy="406.5" r="3.47"/><circle cx="1307.5" cy="403.5" r="3.47"/><circle cx="1331.5" cy="395.5" r="3.47"/><circle cx="1343.5" cy="391.5" r="3.47"/><circle cx="1356.5" cy="390.5" r="3.47"/><circle cx="1368.5" cy="378.5" r="3.47"/><circle cx="1380.5" cy="373.5" r="3.47"/><circle cx="1392.5" cy="372.5" r="3.47"/><circle cx="1404.5" cy="365.5" r="3.47"/><circle cx="1416.5" cy="362.5" r="3.47"/><circle cx="1428.5" cy="354.5" r="3.47"/><circle cx="1441.5" cy="350.5" r="3.47"/><circle cx="1453.5" cy="320.5" r="3.47"/><circle cx="1465.5" cy="294.5" r="3.47"/><circle cx="1477.5" cy="289.5" r="3.47"/><circle cx="1489.5" cy="292.5" r="3.47"/><circle cx="1501.5" cy="264.5" r="3.47"/><circle cx="1513.5" cy="236.5" r="3.47"/><circle cx="1526.5" cy="234.5" r="3.47"/><circle cx="1538.5" cy="221.5" r="3.47"/><circle cx="1550.5" cy="225.5" r="3.47"/><circle cx="1562.5" cy="225.5" r="3.47"/><circle cx="1574.5" cy="293.5" r="3.47"/><circle cx="1586.5" cy="284.5" r="3.47"/><circle cx="1598.5" cy="318.5" r="3.47"/><circle cx="1611.5" cy="336.5" r="3.47"/><circle cx="1623.5" cy="331.5" r="3.47"/><circle cx="1635.5" cy="350.5" r="3.47"/><circle cx="1647.5" cy="346.5" r="3.47"/><circle cx="1659.5" cy="354.5" r="3.47"/><circle cx="1671.5" cy="359.5" r="3.47"/><circle cx="1683.5" cy="362.5" r="3.47"/><circle cx="1696.5" cy="370.5" r="3.47"/><circle cx="1708.5" cy="366.5" r="3.47"/><circle cx="1720.5" cy="374.5" r="3.47"/><circle cx="1732.5" cy="373.5" r="3.47"/><circle cx="1744.5" cy="383.5" r="3.47"/><circle cx="1756.5" cy="384.5" r="3.47"/></g>
<polyline class="ex exb" points="1282.79,410.13 1287.57,408.91 1292.35,407.65 1297.14,406.36 1301.92,405.02 1306.7,403.65 1311.49,402.23 1316.27,400.77 1321.05,399.26 1325.84,397.71 1330.62,396.12 1335.4,394.47 1340.19,392.77 1344.97,391.02 1349.75,389.22 1354.54,387.35 1359.32,385.43 1364.1,383.44 1368.89,381.39 1373.67,379.27 1378.45,377.07 1383.23,374.8 1388.02,372.44 1392.8,370 1397.58,367.46 1402.37,364.82 1407.15,362.07 1411.93,359.21 1416.72,356.23 1421.5,353.11 1426.28,349.84 1431.07,346.42 1435.85,342.81 1440.63,339.01 1445.42,335 1450.2,330.74 1454.98,326.21 1459.77,321.36 1464.55,316.16 1469.33,310.55 1474.12,304.44 1478.9,297.76 1483.68,290.37 1488.46,282.11 1493.25,272.72 1498.03,261.87 1502.81,248.98 1507.6,233.09 1512.38,212.33 1517.16,182.24 1521.95,126.41 1526.73,47.2 1531.51,157.93 1536.3,197.28 1541.08,221.67 1545.86,239.34 1550.65,253.16 1555.43,264.48 1560.21,274.06 1565,282.33 1569.78,289.6 1574.56,296.07 1579.35,301.89 1584.13,307.18 1588.91,312.01 1593.69,316.46 1598.48,320.57 1603.26,324.39 1608.04,327.94 1612.83,331.27 1617.61,334.4 1622.39,337.34 1627.18,340.12 1631.96,342.74 1636.74,345.23 1641.53,347.59 1646.31,349.84 1651.09,351.98 1655.88,354.03 1660.66,355.98 1665.44,357.84 1670.23,359.63 1675.01,361.35 1679.79,362.99 1684.58,364.58 1689.36,366.1 1694.14,367.56 1698.93,368.97 1703.71,370.33 1708.49,371.64 1713.27,372.91 1718.06,374.13 1722.84,375.32 1727.62,376.46 1732.41,377.57 1737.19,378.64 1741.97,379.68 1746.76,380.69 1751.54,381.67 1756.32,382.62"/>
<line x1="1525.61" y1="436.72" x2="1525.61" y2="32.33" stroke="#808080" stroke-opacity=".5" stroke-width="2.08" stroke-dasharray="7.71 3.33"/>
</g>
<g class="k">
<rect x="1259.5" y="32.5" width="521" height="405" fill="none" stroke="#000" stroke-width="1"/>
<line x1="1314.5" y1="437.5" x2="1314.5" y2="442.5"/>
<line x1="1377.5" y1="437.5" x2="1377.5" y2="442.5"/>
<line x1="1441.5" y1="437.5" x2="1441.5" y2="442.5"/>
<line x1="1504.5" y1="437.5" x2="1504.5" y2="442.5"/>
<line x1="1567.5" y1="437.5" x2="1567.5" y2="442.5"/>
<line x1="1630.5" y1="437.5" x2="1630.5" y2="442.5"/>
<line x1="1693.5" y1="437.5" x2="1693.5" y2="442.5"/>
<line x1="1756.5" y1="437.5" x2="1756.5" y2="442.5"/>
<line x1="1254.5" y1="437.5" x2="1259.5" y2="437.5"/>
<line x1="1254.5" y1="369.5" x2="1259.5" y2="369.5"/>
<line x1="1254.5" y1="302.5" x2="1259.5" y2="302.5"/>
<line x1="1254.5" y1="235.5" x2="1259.5" y2="235.5"/>
<line x1="1254.5" y1="167.5" x2="1259.5" y2="167.5"/>
<line x1="1254.5" y1="100.5" x2="1259.5" y2="100.5"/>
<line x1="1254.5" y1="32.5" x2="1259.5" y2="32.5"/>
</g>
</g>
<g id="legend1">
<rect class="lg" x="486.5" y="39.5" width="89" height="109" rx="2.78"/>
<line x1="491.23" y1="51.5" x2="521.81" y2="51.5" stroke="#000" stroke-width="2.78"/>
<line x1="506" y1="65" x2="506" y2="79" stroke="#ffa500" stroke-width="2.08"/>
<circle cx="506.5" cy="72.5" r="3.47" fill="#ffa500"/>
<line x1="506" y1="86" x2="506" y2="100" stroke="#008000" stroke-width="2.08"/>
<circle cx="506.5" cy="93.5" r="3.47" fill="#008000"/>
<line x1="506" y1="107" x2="506" y2="121" stroke="#0000ff" stroke-width="2.08"/>
<circle cx="506.5" cy="114.5" r="3.47" fill="#0000ff"/>
<line x1="506" y1="128" x2="506" y2="142" stroke="#ff0000" stroke-width="2.08"/>
<circle cx="506.5" cy="135.5" r="3.47" fill="#ff0000"/>
</g>
<g id="legend2">
<rect class="lg" x="667.5" y="39.5" width="89" height="109" rx="2.78"/>
<line x1="671.9" y1="51.5" x2="702.48" y2="51.5" stroke="#000" stroke-width="2.78"/>
<line x1="672.25" y1="72.5" x2="702.08" y2="72.5" stroke="#ffa500" stroke-width="2.08"/>
<line x1="687" y1="65" x2="687" y2="79" stroke="#ffa500" stroke-width="2.08"/>
<circle cx="687.5" cy="72.5" r="3.47" fill="#ffa500"/>
<line x1="672.25" y1="93.5" x2="702.08" y2="93.5" stroke="#008000" stroke-width="2.08"/>
<line x1="687" y1="86" x2="687" y2="100" stroke="#008000" stroke-width="2.08"/>
<circle cx="687.5" cy="93.5" r="3.47" fill="#008000"/>
<line x1="672.25" y1="114.5" x2="702.08" y2="114.5" stroke="#0000ff" stroke-width="2.08"/>
<line x1="687" y1="107" x2="687" y2="121" stroke="#0000ff" stroke-width="2.08"/>
<circle cx="687.5" cy="114.5" r="3.47" fill="#0000ff"/>
<line x1="672.25" y1="135.5" x2="702.08" y2="135.5" stroke="#ff0000" stroke-width="2.08"/>
<line x1="687" y1="128" x2="687" y2="142" stroke="#ff0000" stroke-width="2.08"/>
<circle cx="687.5" cy="135.5" r="3.47" fill="#ff0000"/>
</g>
<g id="legend3">
<rect class="lg" x="1684.5" y="39.5" width="89" height="109" rx="2.78"/>
<circle cx="1704.5" cy="51.5" r="3.47" fill="#ffa500"/>
<circle cx="1704.5" cy="72.5" r="3.47" fill="#008000"/>
<circle cx="1704.5" cy="93.5" r="3.47" fill="#0000ff"/>
<circle cx="1704.5" cy="114.5" r="3.47" fill="#ff0000"/>
<line x1="1689.07" y1="135.5" x2="1719.65" y2="135.5" stroke="#000" stroke-width="2.78"/>
</g>
<g id="labels">
<text font-size="17.5" text-anchor="middle" textLength="251.5" lengthAdjust="spacingAndGlyphs" x="320.72" y="23.8">Magnetization vs Temperature</text>
<text font-size="14.18" text-anchor="middle" textLength="89.89" lengthAdjust="spacingAndGlyphs" x="320.72" y="477">Temperature</text>
<text font-size="14.18" text-anchor="middle" textLength="100.94" lengthAdjust="spacingAndGlyphs" transform="translate(21 238.53) rotate(-90)">Magnetization</text>
<text font-size="14.18" text-anchor="middle" textLength="21" lengthAdjust="spacingAndGlyphs" x="116.52" y="457">1.6</text>
<text font-size="14.18" text-anchor="middle" textLength="21" lengthAdjust="spacingAndGlyphs" x="179.66" y="457">1.8</text>
<text font-size="14.18" text-anchor="middle" textLength="21" lengthAdjust="spacingAndGlyphs" x="242.8" y="457">2.0</text>
<text font-size="14.18" text-anchor="middle" textLength="21" lengthAdjust="spacingAndGlyphs" x="305.94" y="457">2.2</text>
<text font-size="14.18" text-anchor="middle" textLength="21" lengthAdjust="spacingAndGlyphs" x="369.08" y="457">2.4</text>
<text font-size="14.18" text-anchor="middle" textLength="21" lengthAdjust="spacingAndGlyphs" x="432.21" y="457">2.6</text>
<text font-size="14.18" text-anchor="middle" textLength="21" lengthAdjust="spacingAndGlyphs" x="495.35" y="457">2.8</text>
<text font-size="14.18" text-anchor="middle" textLength="21" lengthAdjust="spacingAndGlyphs" x="558.49" y="457">3.0</text>
<text font-size="14.39" text-anchor="end" textLength="19.88" lengthAdjust="spacingAndGlyphs" x="51.08" y="423.94">0.0</text>
<text font-size="14.39" text-anchor="end" textLength="19.88" lengthAdjust="spacingAndGlyphs" x="51.08" y="349.62">0.2</text>
<text font-size="14.39" text-anchor="end" textLength="19.88" lengthAdjust="spacingAndGlyphs" x="51.08" y="275.3">0.4</text>
<text font-size="14.39" text-anchor="end" textLength="19.88" lengthAdjust="spacingAndGlyphs" x="51.08" y="200.98">0.6</text>
<text font-size="14.39" text-anchor="end" textLength="19.88" lengthAdjust="spacingAndGlyphs" x="51.08" y="126.66">0.8</text>
<text font-size="14.39" text-anchor="end" textLength="19.88" lengthAdjust="spacingAndGlyphs" x="51.08" y="52.34">1.0</text>
<text font-size="17.5" text-anchor="middle" textLength="261.5" lengthAdjust="spacingAndGlyphs" x="920.64" y="23.8">Internal Energy vs Temperature</text>
<text font-size="14.18" text-anchor="middle" textLength="90.78" lengthAdjust="spacingAndGlyphs" x="920.14" y="477">Temperature</text>
<text font-size="14.18" text-anchor="middle" textLength="111.18" lengthAdjust="spacingAndGlyphs" transform="translate(607 236.03) rotate(-90)">Energy per spin</text>
<text font-size="14.18" text-anchor="middle" textLength="21" lengthAdjust="spacingAndGlyphs" x="715.44" y="457">1.6</text>
<text font-size="14.18" text-anchor="middle" textLength="21" lengthAdjust="spacingAndGlyphs" x="778.58" y="457">1.8</text>
<text font-size="14.18" text-anchor="middle" textLength="21" lengthAdjust="spacingAndGlyphs" x="841.72" y="457">2.0</text>
<text font-size="14.18" text-anchor="middle" textLength="21" lengthAdjust="spacingAndGlyphs" x="904.85" y="457">2.2</text>
<text font-size="14.18" text-anchor="middle" textLength="21" lengthAdjust="spacingAndGlyphs" x="967.99" y="457">2.4</text>
<text font-size="14.18" text-anchor="middle" textLength="21" lengthAdjust="spacingAndGlyphs" x="1031.13" y="457">2.6</text>
<text font-size="14.18" text-anchor="middle" textLength="21" lengthAdjust="spacingAndGlyphs" x="1094.27" y="457">2.8</text>
<text font-size="14.18" text-anchor="middle" textLength="21" lengthAdjust="spacingAndGlyphs" x="1157.41" y="457">3.0</text>
<text font-size="14.18" text-anchor="end" textLength="32" lengthAdjust="spacingAndGlyphs" x="649.99" y="414.35">−2.0</text>
<text font-size="14.18" text-anchor="end" textLength="32" lengthAdjust="spacingAndGlyphs" x="649.99" y="359.6">−1.8</text>
<text font-size="14.18" text-anchor="end" textLength="32" lengthAdjust="spacingAndGlyphs" x="649.99" y="304.85">−1.6</text>
<text font-size="14.18" text-anchor="end" textLength="32" lengthAdjust="spacingAndGlyphs" x="649.99" y="250.1">−1.4</text>
<text font-size="14.18" text-anchor="end" textLength="32" lengthAdjust="spacingAndGlyphs" x="649.99" y="195.35">−1.2</text>
<text font-size="14.18" text-anchor="end" textLength="32" lengthAdjust="spacingAndGlyphs" x="649.99" y="140.6">−1.0</text>
<text font-size="14.18" text-anchor="end" textLength="32" lengthAdjust="spacingAndGlyphs" x="649.99" y="85.85">−0.8</text>
<text font-size="17.5" text-anchor="middle" textLength="251.5" lengthAdjust="spacingAndGlyphs" x="1518.56" y="23.8">Heat Capacity vs Temperature</text>
<text font-size="14.18" text-anchor="middle" textLength="90.78" lengthAdjust="spacingAndGlyphs" x="1518.06" y="477">Temperature</text>
<text font-size="14.39" text-anchor="middle" textLength="97.52" lengthAdjust="spacingAndGlyphs" transform="translate(1218 237.03) rotate(-90)">Heat Capacity</text>
<text font-size="14.18" text-anchor="middle" textLength="21.42" lengthAdjust="spacingAndGlyphs" x="1314.36" y="457">1.6</text>
<text font-size="14.18" text-anchor="middle" textLength="21.42" lengthAdjust="spacingAndGlyphs" x="1377.49" y="457">1.8</text>
<text font-size="14.18" text-anchor="middle" textLength="21.42" lengthAdjust="spacingAndGlyphs" x="1440.63" y="457">2.0</text>
<text font-size="14.18" text-anchor="middle" textLength="21.42" lengthAdjust="spacingAndGlyphs" x="1503.77" y="457">2.2</text>
<text font-size="14.18" text-anchor="middle" textLength="21.42" lengthAdjust="spacingAndGlyphs" x="1566.91" y="457">2.4</text>
<text font-size="14.18" text-anchor="middle" textLength="21.42" lengthAdjust="spacingAndGlyphs" x="1630.05" y="457">2.6</text>
<text font-size="14.18" text-anchor="middle" textLength="21.42" lengthAdjust="spacingAndGlyphs" x="1693.19" y="457">2.8</text>
<text font-size="14.18" text-anchor="middle" textLength="21.42" lengthAdjust="spacingAndGlyphs" x="1756.32" y="457">3.0</text>
<text font-size="14.4" text-anchor="end" textLength="20.5" lengthAdjust="spacingAndGlyphs" x="1248.81" y="442.32">0.0</text>
<text font-size="14.4" text-anchor="end" textLength="20.5" lengthAdjust="spacingAndGlyphs" x="1248.81" y="374.92">0.5</text>
<text font-size="14.4" text-anchor="end" textLength="20.5" lengthAdjust="spacingAndGlyphs" x="1248.81" y="307.53">1.0</text>
<text font-size="14.4" text-anchor="end" textLength="20.5" lengthAdjust="spacingAndGlyphs" x="1248.81" y="240.13">1.5</text>
<text font-size="14.4" text-anchor="end" textLength="20.5" lengthAdjust="spacingAndGlyphs" x="1248.81" y="172.73">2.0</text>
<text font-size="14.4" text-anchor="end" textLength="20.5" lengthAdjust="spacingAndGlyphs" x="1248.81" y="105.33">2.5</text>
<text font-size="14.4" text-anchor="end" textLength="20.5" lengthAdjust="spacingAndGlyphs" x="1248.81" y="37.93">3.0</text>
<text font-size="14.4" textLength="38.38" lengthAdjust="spacingAndGlyphs" x="531.3" y="56">Exact</text>
<text font-size="14.4" textLength="27.27" lengthAdjust="spacingAndGlyphs" x="531.3" y="76.94">L=4</text>
<text font-size="14.4" textLength="26.77" lengthAdjust="spacingAndGlyphs" x="531.3" y="97.89">L=8</text>
<text font-size="14.4" textLength="35.35" lengthAdjust="spacingAndGlyphs" x="531.3" y="118.83">L=16</text>
<text font-size="14.4" textLength="35.35" lengthAdjust="spacingAndGlyphs" x="531.3" y="139.78">L=32</text>
<text font-size="14.4" textLength="38.38" lengthAdjust="spacingAndGlyphs" x="712.2" y="56">Exact</text>
<text font-size="14.4" textLength="27.27" lengthAdjust="spacingAndGlyphs" x="712.2" y="76.94">L=4</text>
<text font-size="14.4" textLength="26.77" lengthAdjust="spacingAndGlyphs" x="712.2" y="97.89">L=8</text>
<text font-size="14.4" textLength="35.35" lengthAdjust="spacingAndGlyphs" x="712.2" y="118.83">L=16</text>
<text font-size="14.4" textLength="35.35" lengthAdjust="spacingAndGlyphs" x="712.2" y="139.78">L=32</text>
<text font-size="14.4" textLength="27.27" lengthAdjust="spacingAndGlyphs" x="1729.2" y="56">L=4</text>
<text font-size="14.4" textLength="26.77" lengthAdjust="spacingAndGlyphs" x="1729.2" y="76.94">L=8</text>
<text font-size="14.4" textLength="35.35" lengthAdjust="spacingAndGlyphs" x="1729.2" y="97.89">L=16</text>
<text font-size="14.4" textLength="35.35" lengthAdjust="spacingAndGlyphs" x="1729.2" y="118.83">L=32</text>
<text font-size="14.4" textLength="38.38" lengthAdjust="spacingAndGlyphs" x="1729.2" y="139.78">Exact</text>
</g>
</svg></body></html>
